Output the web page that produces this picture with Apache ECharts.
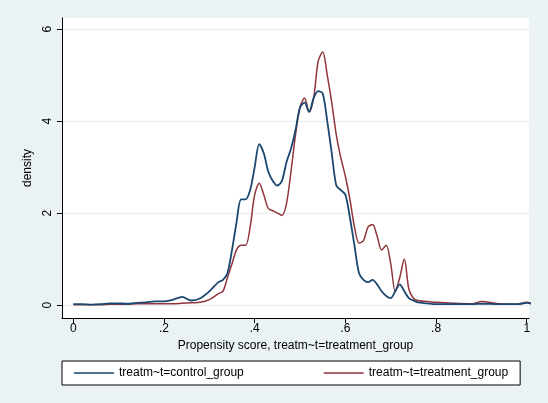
<!DOCTYPE html>
<html>
<head>
<meta charset="UTF-8">
<script src="https://cdn.jsdelivr.net/npm/echarts@6/dist/echarts.min.js"></script>
<style>html,body{margin:0;padding:0;background:#eaf2f3;}</style>
</head>
<body>
<div id="main" style="width:548px;height:403px;"></div>
<script>
var xs = [0.00,0.02,0.04,0.06,0.08,0.10,0.12,0.14,0.16,0.18,0.20,0.22,0.24,0.26,0.28,0.30,0.32,0.33,0.34,0.35,0.36,0.37,0.38,0.39,0.40,0.41,0.42,0.43,0.44,0.45,0.46,0.47,0.48,0.49,0.50,0.51,0.52,0.53,0.54,0.55,0.56,0.57,0.58,0.59,0.60,0.61,0.62,0.63,0.64,0.65,0.66,0.67,0.68,0.69,0.70,0.71,0.72,0.73,0.74,0.75,0.76,0.78,0.80,0.84,0.88,0.90,0.94,0.98,1.00,1.02];
var control = [0.02,0.02,0.01,0.02,0.04,0.04,0.03,0.05,0.06,0.08,0.08,0.12,0.18,0.1,0.15,0.3,0.5,0.55,0.7,1.2,1.8,2.3,2.3,2.5,3.0,3.5,3.3,2.9,2.7,2.6,2.7,3.1,3.4,3.8,4.3,4.4,4.2,4.5,4.65,4.6,4.0,3.3,2.6,2.5,2.4,1.9,1.3,0.7,0.55,0.5,0.55,0.45,0.3,0.2,0.15,0.3,0.45,0.3,0.15,0.1,0.06,0.04,0.02,0.02,0.02,0.03,0.02,0.02,0.05,0.0];
var treatment = [0.01,0.01,0.01,0.01,0.02,0.02,0.02,0.03,0.03,0.03,0.03,0.03,0.04,0.05,0.06,0.12,0.25,0.3,0.6,0.9,1.2,1.3,1.3,1.7,2.4,2.65,2.4,2.1,2.05,2.0,1.95,2.2,2.9,3.7,4.3,4.5,4.2,4.5,5.3,5.5,5.0,4.4,3.7,3.2,2.8,2.3,1.7,1.35,1.4,1.7,1.75,1.5,1.2,1.3,0.9,0.3,0.6,1.0,0.35,0.15,0.1,0.08,0.06,0.04,0.03,0.08,0.03,0.02,0.06,0.0];
var xTicks = [0,0.2,0.4,0.6,0.8,1];
var yTicks = [0,2,4,6];
function pairs(v){ return xs.map(function(x,i){ return [x, v[i]]; }); }

var chart = echarts.init(document.getElementById('main'));
chart.setOption({
  backgroundColor: '#eaf2f3',
  animation: false,
  textStyle: { fontFamily: 'Liberation Sans, Arial, sans-serif' },
  grid: { left: 62, right: 19, top: 18, bottom: 85, show: true, backgroundColor: '#fff', borderColor: '#000', borderWidth: 0 },
  legend: {
    bottom: 18, left: 62, width: 446, itemGap: 80, itemWidth: 40,
    padding: [6, 12], borderColor: '#000', borderWidth: 1, backgroundColor: '#fff',
    icon: 'rect', itemHeight: 1.5,
    textStyle: { fontSize: 12, color: '#000' },
    data: ['treatm~t=control_group', 'treatm~t=treatment_group']
  },
  xAxis: {
    type: 'value', min: -0.025, max: 1.005,
    name: 'Propensity score, treatm~t=treatment_group', nameLocation: 'middle', nameGap: 20,
    nameTextStyle: { fontSize: 12, color: '#000' },
    axisLine: { show: true, onZero: false, lineStyle: { color: '#000' } },
    axisTick: { show: true, length: 5, customValues: xTicks, lineStyle: { color: '#000' } },
    axisLabel: { customValues: xTicks, color: '#000', fontSize: 12, margin: 5,
      formatter: function(v){ return v === 0 ? '0' : v === 1 ? '1' : String(v).replace('0.', '.'); } },
    splitLine: { show: false }
  },
  yAxis: {
    type: 'value', min: -0.28, max: 6.24,
    name: 'density', nameLocation: 'middle', nameGap: 26,
    nameTextStyle: { fontSize: 12, color: '#000' },
    axisLine: { show: true, onZero: false, lineStyle: { color: '#000' } },
    axisTick: { show: true, length: 5, customValues: yTicks, lineStyle: { color: '#000' } },
    axisLabel: { customValues: yTicks, color: '#000', fontSize: 12, rotate: 90, margin: 8 },
    splitLine: { show: true, customValues: yTicks, lineStyle: { color: '#e8ecec' } }
  },
  series: [
    { name: 'treatm~t=treatment_group', type: 'line', data: pairs(treatment), smooth: 0.3, showSymbol: false, z: 2,
      lineStyle: { color: '#90353b', width: 1.5 }, itemStyle: { color: '#90353b' } },
    { name: 'treatm~t=control_group', type: 'line', data: pairs(control), smooth: 0.3, showSymbol: false, z: 3,
      lineStyle: { color: '#1a476f', width: 1.8 }, itemStyle: { color: '#1a476f' } }
  ]
});
</script>
</body>
</html>
